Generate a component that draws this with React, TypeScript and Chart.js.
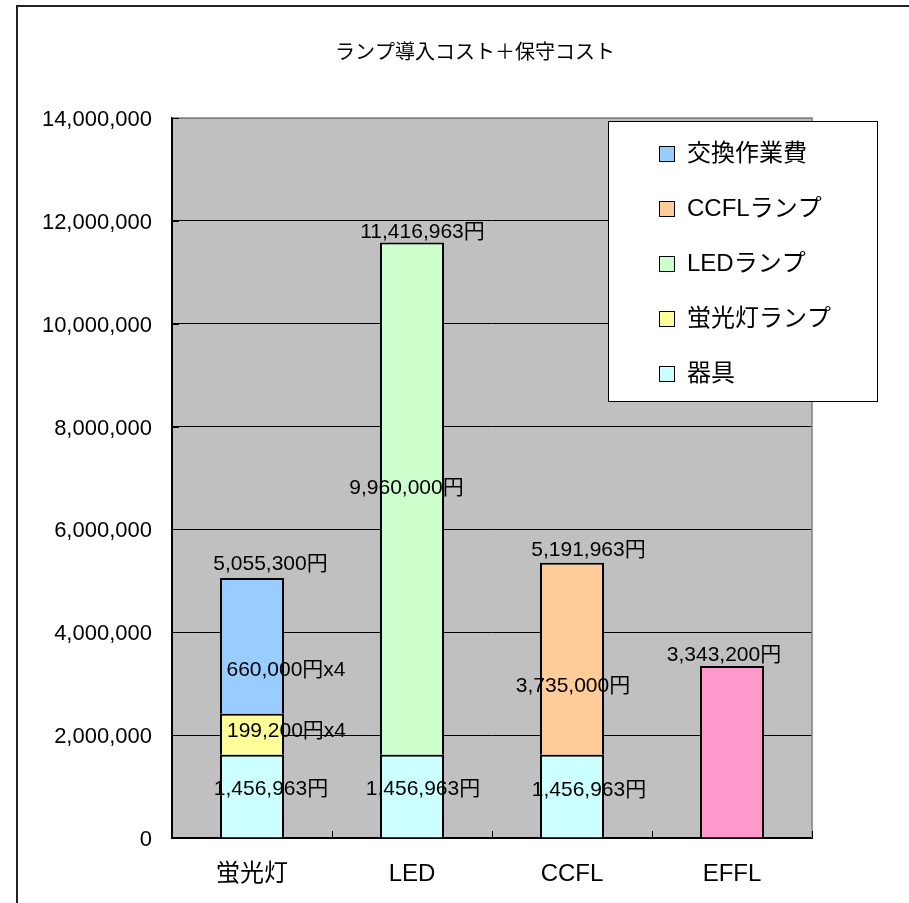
import React, { useEffect, useRef } from 'react';
import { Chart, registerables } from 'chart.js';

Chart.register(...registerables);

// ---- data ----
const categories = ['蛍光灯', 'LED', 'CCFL', 'EFFL'];
const equipment = [1618500, 1618500, 1618500, null];
const fluorescentLamp = [796800, null, null, null];
const ledLamp = [null, 9960000, null, null];
const ccflLamp = [null, null, 3735000, null];
const replacementWork = [2640000, null, null, null];
const efflTotal = [null, null, null, 3343200];

const equipmentLabels = ['1,456,963円', '1,456,963円', '1,456,963円', ''];
const fluorescentLampLabels = ['199,200円x4', '', '', ''];
const ledLampLabels = ['', '9,960,000円', '', ''];
const ccflLampLabels = ['', '', '3,735,000円', ''];
const replacementWorkLabels = ['660,000円x4', '', '', ''];
const efflLabels = ['', '', '', ''];
const totalLabels = ['5,055,300円', '11,416,963円', '5,191,963円', '3,343,200円'];

const seriesNames = ['器具', '蛍光灯ランプ', 'LEDランプ', 'CCFLランプ', '交換作業費', 'EFFL'];
const yMin = 0;
const yMax = 14000000;
const yStep = 2000000;
const chartTitle = 'ランプ導入コスト＋保守コスト';

// ---- styles ----
const FONT = "'Liberation Sans', Arial, 'Noto Sans CJK JP', sans-serif";
const COLORS = ['#CCFFFF', '#FFFF99', '#CCFFCC', '#FFCC99', '#99CCFF', '#FF99CC'];
const LEGEND_ORDER = [4, 3, 2, 1, 0];

// label offsets (dx, dy) relative to segment middle, per dataset & category
const SEG_OFFSETS: [number, number][][] = [
  [[19, -6.5], [11, -6.5], [17, -6], [0, 0]],
  [[34.5, -3.5], [0, 0], [0, 0], [0, 0]],
  [[0, 0], [-5.5, -10], [0, 0], [0, 0]],
  [[0, 0], [0, 0], [1, 27], [0, 0]],
  [[34, 24], [0, 0], [0, 0], [0, 0]],
  [[0, 0], [0, 0], [0, 0], [0, 0]],
];
const TOTAL_OFFSETS: [number, number][] = [[18.5, -14], [10.5, -10.5], [16.5, -12.5], [-8, -11]];

const segLabelSets = [
  equipmentLabels,
  fluorescentLampLabels,
  ledLampLabels,
  ccflLampLabels,
  replacementWorkLabels,
  efflLabels,
];

const decorPlugin = {
  id: 'decor',
  beforeDraw(chart: any) {
    const { ctx, chartArea: a } = chart;
    ctx.save();
    ctx.fillStyle = '#FFFFFF';
    ctx.fillRect(0, 0, chart.width, chart.height);
    // outer frame (top & left visible)
    ctx.strokeStyle = '#222222';
    ctx.lineWidth = 2;
    ctx.beginPath();
    ctx.moveTo(17, chart.height + 5);
    ctx.lineTo(17, 6);
    ctx.lineTo(chart.width + 5, 6);
    ctx.stroke();
    // plot area
    ctx.fillStyle = '#C0C0C0';
    ctx.fillRect(a.left, a.top, a.right - a.left, a.bottom - a.top);
    ctx.restore();
  },
  afterDraw(chart: any) {
    const { ctx, chartArea: a } = chart;
    ctx.save();
    // plot border top/right in gray
    ctx.strokeStyle = '#808080';
    ctx.lineWidth = 1.5;
    ctx.beginPath();
    ctx.moveTo(a.left, a.top);
    ctx.lineTo(a.right, a.top);
    ctx.lineTo(a.right, a.bottom);
    ctx.stroke();
    // inner tick marks on x axis
    ctx.strokeStyle = '#000000';
    ctx.lineWidth = 1;
    const n = categories.length;
    for (let i = 1; i <= n; i++) {
      const x = Math.round(a.left + ((a.right - a.left) * i) / n) + 0.5;
      ctx.beginPath();
      ctx.moveTo(x, a.bottom);
      ctx.lineTo(x, a.bottom - 7);
      ctx.stroke();
    }
    // inner tick marks on y axis
    const ys = chart.scales.y;
    ys.ticks.forEach((t: any) => {
      const y = Math.round(ys.getPixelForValue(t.value)) + 0.5;
      ctx.beginPath();
      ctx.moveTo(a.left, y);
      ctx.lineTo(a.left + 7, y);
      ctx.stroke();
    });

    // data labels
    ctx.fillStyle = '#000000';
    ctx.font = `21px ${FONT}`;
    ctx.textAlign = 'center';
    ctx.textBaseline = 'middle';
    chart.data.datasets.forEach((ds: any, di: number) => {
      const meta = chart.getDatasetMeta(di);
      meta.data.forEach((el: any, j: number) => {
        const txt = segLabelSets[di][j];
        if (!txt || ds.data[j] == null) return;
        const mid = (el.y + el.base) / 2;
        const [dx, dy] = SEG_OFFSETS[di][j];
        ctx.fillText(txt, el.x + dx, mid + dy);
      });
    });
    categories.forEach((_c, j) => {
      let top: any = null;
      chart.data.datasets.forEach((ds: any, di: number) => {
        if (ds.data[j] == null) return;
        const el = chart.getDatasetMeta(di).data[j];
        if (!top || el.y < top.y) top = el;
      });
      if (top && totalLabels[j]) {
        const [dx, dy] = TOTAL_OFFSETS[j];
        ctx.fillText(totalLabels[j], top.x + dx, top.y + dy);
      }
    });

    // title
    ctx.font = `20px ${FONT}`;
    ctx.fillText(chartTitle, 475, 53);

    // legend
    const lx = 608.5, ly = 121.5, lw = 269, lh = 280;
    ctx.fillStyle = '#FFFFFF';
    ctx.fillRect(lx, ly, lw, lh);
    ctx.strokeStyle = '#000000';
    ctx.lineWidth = 1;
    ctx.strokeRect(lx, ly, lw, lh);
    ctx.font = `24px ${FONT}`;
    ctx.textAlign = 'left';
    LEGEND_ORDER.forEach((di, k) => {
      const ds = chart.data.datasets[di];
      const cy = 153 + k * 55.2;
      ctx.fillStyle = ds.backgroundColor;
      ctx.fillRect(659.5, Math.round(cy - 7.5) + 0.5, 15, 15);
      ctx.strokeStyle = '#000000';
      ctx.lineWidth = 1;
      ctx.strokeRect(659.5, Math.round(cy - 7.5) + 0.5, 15, 15);
      ctx.fillStyle = '#000000';
      ctx.fillText(ds.label, 687, cy + 1);
    });
    ctx.restore();
  },
};

export default function App() {
  const ref = useRef<HTMLCanvasElement | null>(null);
  useEffect(() => {
    if (!ref.current) return;
    const seriesData = [equipment, fluorescentLamp, ledLamp, ccflLamp, replacementWork, efflTotal];
    const chart = new Chart(ref.current, {
      type: 'bar',
      data: {
        labels: categories,
        datasets: seriesData.map((d, i) => ({
          label: seriesNames[i],
          data: d,
          backgroundColor: COLORS[i],
          borderColor: '#000000',
          borderWidth: 2,
          borderSkipped: 'start',
          categoryPercentage: 1,
          barPercentage: 0.4,
        })),
      },
      options: {
        responsive: false,
        animation: false,
        devicePixelRatio: 1,
        layout: { padding: { left: 0, top: 118, right: 97, bottom: 0 } },
        plugins: {
          legend: { display: false },
          title: { display: false },
          tooltip: { enabled: false },
        },
        scales: {
          x: {
            stacked: true,
            grid: { display: false, drawTicks: false },
            border: { display: true, color: '#000000', width: 2 },
            ticks: { color: '#000000', font: { family: FONT, size: 24 }, padding: 22 },
            afterFit: (s: any) => { s.height = 65; },
          },
          y: {
            stacked: true,
            min: yMin,
            max: yMax,
            grid: {
              color: (c: any) => (c.tick && c.tick.value === yMax ? '#808080' : '#000000'),
              lineWidth: 1,
              drawTicks: false,
            },
            border: { display: true, color: '#000000', width: 2 },
            ticks: {
              stepSize: yStep,
              color: '#000000',
              font: { family: FONT, size: 22 },
              padding: 20,
              labelOffset: 2,
              callback: (v: any) => Number(v).toLocaleString('en-US'),
            },
            afterFit: (s: any) => { s.width = 172; },
          },
        },
      },
      plugins: [decorPlugin],
    });
    return () => chart.destroy();
  }, []);
  return (
    <div style={{ position: 'fixed', left: 0, top: 0, width: 909, height: 903, background: '#fff' }}>
      <canvas ref={ref} width={909} height={903} style={{ display: 'block' }} />
    </div>
  );
}
